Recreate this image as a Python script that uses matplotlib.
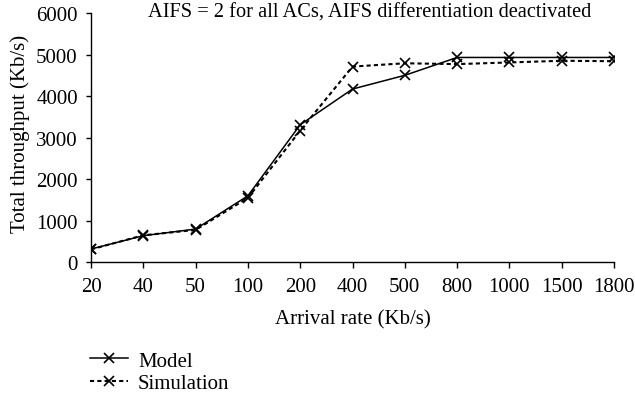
import matplotlib
matplotlib.use("Agg")
import matplotlib.pyplot as plt
from matplotlib.legend_handler import HandlerLine2D

categories = ["20", "40", "50", "100", "200", "400", "500", "800", "1000", "1500", "1800"]
model = [320, 640, 800, 1600, 3310, 4170, 4500, 4930, 4930, 4930, 4930]
simulation = [310, 650, 780, 1550, 3170, 4710, 4790, 4770, 4810, 4850, 4840]

plt.rcParams['font.family'] = ['Liberation Serif', 'DejaVu Serif']
FS = 15

fig = plt.figure(figsize=(6.35, 4.02), dpi=100)
x0, x1, ytop, ybot = 91, 614, 14, 263.3
ax = fig.add_axes([x0/635, 1-ybot/402, (x1-x0)/635, (ybot-ytop)/402])
x = list(range(len(categories)))
ax.plot(x, model, color='black', lw=1.1, marker='x', ms=7.5, mew=1.2, label='Model')
ax.plot(x, simulation, color='black', lw=1.5, ls=(0, (2, 1.5)), marker='x', ms=7.5, mew=1.2,
        label='Simulation')

ax.set_xlim(0, len(categories) - 1)
ax.set_ylim(0, 6000)
ax.set_xticks(x)
ax.set_xticklabels(categories)
ax.set_yticks(range(0, 6001, 1000))
ax.tick_params(labelsize=FS, direction='out', width=1)
ax.tick_params(axis='y', length=3.5, pad=6)
ax.tick_params(axis='x', length=4, pad=6.5)
for s in ['top', 'right']:
    ax.spines[s].set_visible(False)
for s in ['left', 'bottom']:
    ax.spines[s].set_linewidth(1)
ax.set_xlabel('Arrival rate (Kb/s)', fontsize=FS)
ax.set_ylabel('Total throughput (Kb/s)', fontsize=FS)
ax.xaxis.set_label_coords((353 - x0) / (x1 - x0), -(310 - ybot) / (ybot - ytop))
ax.yaxis.set_label_coords(-(x0 - 30) / (x1 - x0), 0.52)
ax.text(370 / 635, 1 - 18 / 402, 'AIFS = 2 for all ACs, AIFS differentiation deactivated',
        transform=fig.transFigure, ha='center', va='baseline', fontsize=14.7)

fig.legend(loc='upper left', bbox_to_anchor=(90/635, 1-352/402), frameon=False,
           fontsize=FS, handlelength=1.8, handletextpad=0.5, labelspacing=0.15,
           borderaxespad=0, borderpad=0,
           handler_map={plt.Line2D: HandlerLine2D(numpoints=1)})
fig.savefig('out.png', dpi=100)
